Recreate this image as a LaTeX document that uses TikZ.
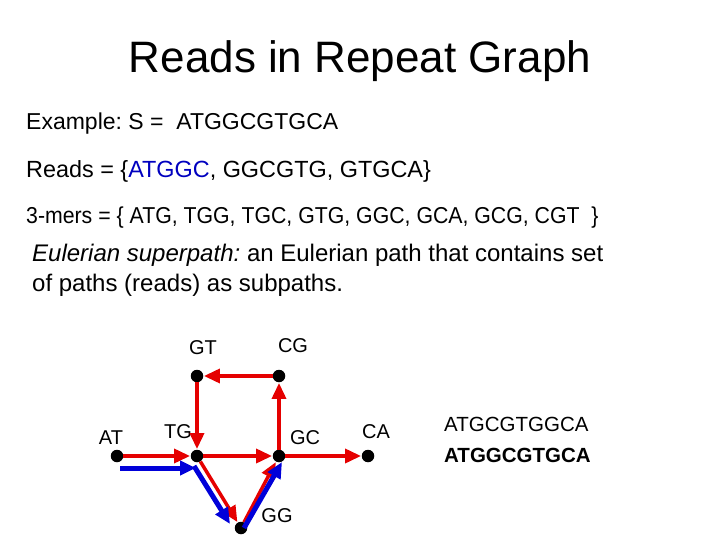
\documentclass[tikz,border=0pt]{standalone}
\usepackage{fontspec}
\setmainfont{Liberation Sans}
\usetikzlibrary{arrows.meta, calc}
\frenchspacing

\begin{document}
\begin{tikzpicture}[
        x=1pt, y=-1pt,
        % Stili per i nodi del grafo
        dot/.style={circle, fill=black, inner sep=0pt, minimum size=12.5pt},
        kmer/.style={font=\fontsize{20}{24}\selectfont, inner sep=0pt, anchor=base},
        % Stili per il testo
        line/.style={font=\fontsize{23}{27}\selectfont, inner sep=0pt, anchor=base west},
        % Stili per le frecce
        redge/.style={-{Triangle[length=16pt, width=14pt]}, line width=3.5pt, draw=red!90!black, shorten >=0.5pt},
        bpath/.style={-{Triangle[length=16pt, width=14pt]}, line width=5pt, draw=blue!85!black}
    ]
    \useasboundingbox (0,0) rectangle (720,540);

    % --- TITLE AND TEXT ---
    \node[inner sep=0pt, anchor=base, font=\fontsize{44}{50}\selectfont] (title) at (360,73) {Reads in Repeat Graph};
    \node[line] (ex) at (26,130) {Example: S = \ ATGGCGTGCA};
    \node[line, font=\fontsize{23.4}{27}\selectfont] (reads) at (26,178) {Reads = \{\textcolor{blue!75!black}{ATGGC}, GGCGTG, GTGCA\}};
    \node[line] (kmers) at (26,223) {\scalebox{0.925}[1]{3-mers = \{ ATG, TGG, TGC, GTG, GGC, GCA, GCG, CGT \ \}}};
    \node[line, font=\fontsize{24}{28}\selectfont] (eul1) at (32,261) {\textit{Eulerian superpath:} an Eulerian path that contains set};
    \node[line, font=\fontsize{24}{28}\selectfont] (eul2) at (32,291) {of paths (reads) as subpaths.};

    % --- GRAPH NODES ---
    \node[dot] (AT) at (117,456) {};
    \node[dot] (TG) at (197,456) {};
    \node[dot] (GC) at (279,456) {};
    \node[dot] (CA) at (368,456) {};
    \node[dot] (GT) at (197,376) {};
    \node[dot] (CG) at (279,376) {};
    \node[dot] (GG) at (241,528) {};

    \node[kmer] (lAT) at (111,444) {AT};
    \node[kmer] (lTG) at (178,438) {TG};
    \node[kmer] (lGC) at (305,444) {GC};
    \node[kmer] (lCA) at (376,438) {CA};
    \node[kmer] (lGT) at (203,354) {GT};
    \node[kmer] (lCG) at (293,352) {CG};
    \node[kmer] (lGG) at (277,522) {GG};

    % --- RED EDGES ---
    \draw[redge] (AT) -- (TG);
    \draw[redge] (TG) -- (GC);
    \draw[redge] (GC) -- (CA);
    \draw[redge] (GC) -- (CG);
    \draw[redge] (CG) -- (GT);
    \draw[redge] (GT) -- (TG);
    \draw[redge] (TG) -- (GG);
    \draw[redge] (GG) -- (GC);

    % --- BLUE READ ---
    \draw[bpath] ($(AT)+(3,12)$) -- ($(TG)+(-1,12)$);
    \draw[bpath] ($(TG)+(-3,10)$) -- ($(GG)+(-11,-4)$);
    \draw[bpath] ($(GG)+(3,0)$) -- ($(GC)+(3,6)$);

    % --- STRINGS ---
    \node[inner sep=0pt, anchor=base west, font=\fontsize{20.5}{24}\selectfont] (s1) at (444,431) {ATGCGTGGCA};
    \node[inner sep=0pt, anchor=base west, font=\fontsize{20.5}{24}\selectfont\bfseries] (s2) at (444,462) {ATGGCGTGCA};

\end{tikzpicture}
\end{document}
